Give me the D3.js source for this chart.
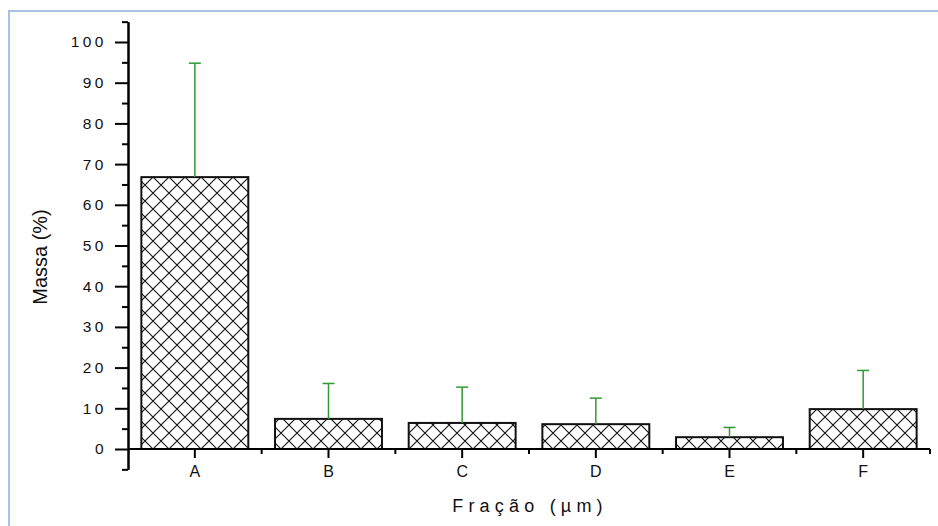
<!DOCTYPE html>
<html lang="pt">
<head>
  <meta charset="UTF-8">
  <title>Massa por fração</title>
  <script src="https://cdn.jsdelivr.net/npm/d3@7"></script>
  <style>
    body { margin: 0; background: #fff; }
    svg { display: block; font-family: "Liberation Sans", Arial, sans-serif; }
    .axis path, .axis line { stroke: #000; stroke-width: 2px; }
    .bar { fill: url(#hatch); stroke: #111; stroke-width: 2px; }
    .err { stroke: #2f9a2f; stroke-width: 1.5px; fill: none; }
  </style>
</head>
<body>
<div id="chart"></div>
<script>
  // data
  var categories = ["A", "B", "C", "D", "E", "F"];
  var massa = [66.8, 7.4, 6.4, 6.1, 2.9, 9.8];
  var erro = [28.0, 8.7, 8.8, 6.4, 2.4, 9.5];
  var yMajor = [0, 10, 20, 30, 40, 50, 60, 70, 80, 90, 100];
  var yMinor = [-5, 5, 15, 25, 35, 45, 55, 65, 75, 85, 95, 105];

  var W = 938, H = 526;
  var svg = d3.select("#chart").append("svg")
      .attr("width", W).attr("height", H);

  // crosshatch fill
  var defs = svg.append("defs");
  var pat = defs.append("pattern")
      .attr("id", "hatch")
      .attr("patternUnits", "userSpaceOnUse")
      .attr("x", 137).attr("y", 1)
      .attr("width", 16).attr("height", 16);
  pat.append("rect").attr("width", 16).attr("height", 16).attr("fill", "#fff");
  pat.append("path")
      .attr("d", "M-4,4 L4,-4 M0,16 L16,0 M12,20 L20,12 M-4,12 L4,20 M0,0 L16,16 M12,-4 L20,4")
      .attr("stroke", "#111").attr("stroke-width", 1.1);

  // frame
  svg.append("rect")
      .attr("x", 9).attr("y", 11)
      .attr("width", 1000).attr("height", 1000)
      .attr("fill", "none")
      .attr("stroke", "#a9c1e3").attr("stroke-width", 2);

  var x = d3.scaleBand()
      .domain(categories)
      .range([128, 930])
      .paddingInner(0.2)
      .paddingOuter(0.1);

  var y = d3.scaleLinear()
      .domain([-5, 105])
      .range([449 + 5 * 4.07, 449 - 105 * 4.07]);

  // bars
  svg.selectAll("rect.bar")
      .data(categories)
      .enter().append("rect")
      .attr("class", "bar")
      .attr("x", d => x(d))
      .attr("width", x.bandwidth())
      .attr("y", (d, i) => y(massa[i]))
      .attr("height", (d, i) => y(0) - y(massa[i]));

  // error bars (upper only)
  var eb = svg.selectAll("g.eb")
      .data(categories)
      .enter().append("g").attr("class", "eb");
  eb.append("line").attr("class", "err")
      .attr("x1", d => x(d) + x.bandwidth() / 2)
      .attr("x2", d => x(d) + x.bandwidth() / 2)
      .attr("y1", (d, i) => y(massa[i]))
      .attr("y2", (d, i) => y(massa[i] + erro[i]));
  eb.append("line").attr("class", "err")
      .attr("x1", d => x(d) + x.bandwidth() / 2 - 6)
      .attr("x2", d => x(d) + x.bandwidth() / 2 + 6)
      .attr("y1", (d, i) => y(massa[i] + erro[i]))
      .attr("y2", (d, i) => y(massa[i] + erro[i]));

  // y axis
  svg.append("g").attr("class", "axis")
      .attr("transform", "translate(128,0)")
      .call(d3.axisLeft(y).tickValues(yMinor).tickSize(6).tickSizeOuter(0).tickFormat(""));
  var yAxis = svg.append("g").attr("class", "axis")
      .attr("transform", "translate(128,0)")
      .call(d3.axisLeft(y).tickValues(yMajor).tickSize(13).tickSizeOuter(0).tickPadding(8));
  yAxis.attr("font-size", null).attr("font-family", null);
  yAxis.selectAll("text")
      .style("font-size", "15.5px")
      .style("fill", "#111")
      .style("letter-spacing", "3.5px");

  // x axis
  var bounds = categories.map(c => x(c) - x.step() * x.paddingInner() / 2);
  bounds.push(x.range()[1]);
  var xs = svg.append("g").attr("class", "axis")
      .attr("transform", "translate(0," + y(0) + ")");
  xs.append("line").attr("x1", 128).attr("x2", 930).attr("y1", 0).attr("y2", 0);
  xs.selectAll("line.minor")
      .data(bounds.slice(1))
      .enter().append("line").attr("class", "minor")
      .attr("x1", d => d).attr("x2", d => d)
      .attr("y1", 0).attr("y2", 5);
  var xAxis = svg.append("g").attr("class", "axis")
      .attr("transform", "translate(0," + y(0) + ")")
      .call(d3.axisBottom(x).tickSize(9).tickSizeOuter(0).tickPadding(8));
  xAxis.select(".domain").remove();
  xAxis.attr("font-size", null).attr("font-family", null);
  xAxis.selectAll("text")
      .style("font-size", "16px")
      .style("fill", "#111");

  // titles
  svg.append("text")
      .attr("transform", "translate(47,257) rotate(-90)")
      .attr("text-anchor", "middle")
      .attr("font-size", "20px")
      .attr("fill", "#111")
      .text("Massa (%)");

  svg.append("text")
      .attr("x", 530).attr("y", 512)
      .attr("text-anchor", "middle")
      .attr("font-size", "18px")
      .attr("fill", "#111")
      .style("letter-spacing", "5.2px")
      .text("Fração (µm)");
</script>
</body>
</html>
